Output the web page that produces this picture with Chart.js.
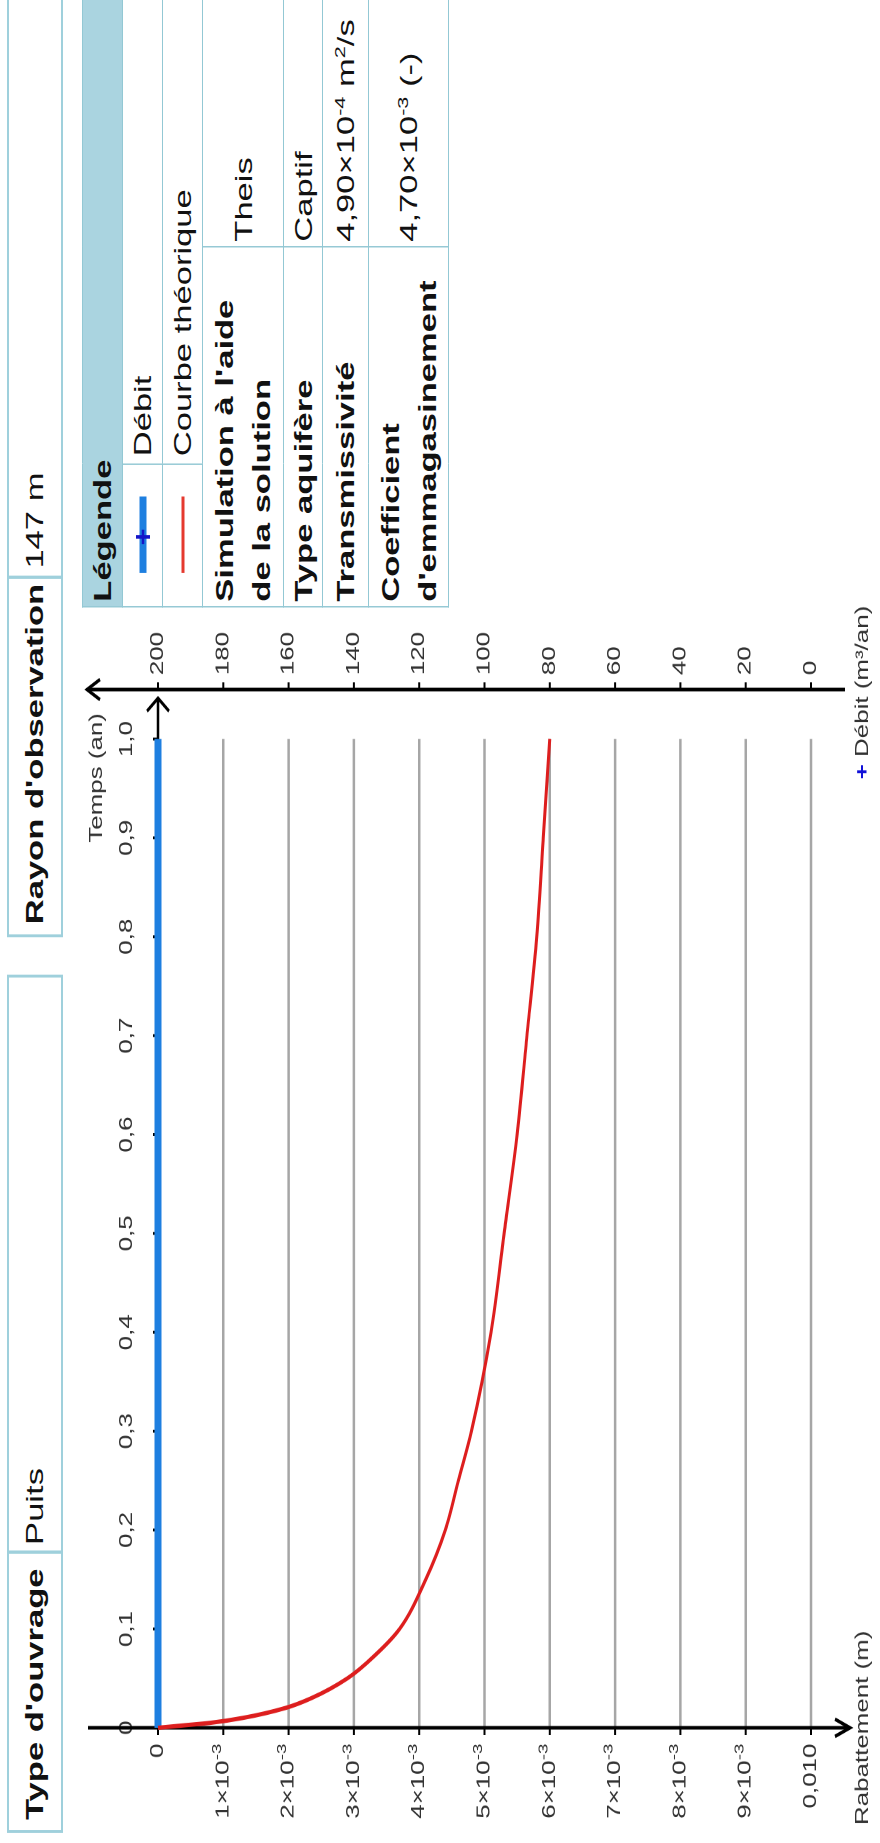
<!DOCTYPE html>
<html lang="fr">
<head>
<meta charset="utf-8">
<title>Simulation de Theis - rabattement</title>
<script src="https://cdn.jsdelivr.net/npm/chart.js@4.4.1/dist/chart.umd.min.js"></script>
<style>
  html, body { margin: 0; padding: 0; background: #fff; overflow: hidden; }
  body { width: 880px; height: 1843px; position: relative; }
  /* the sheet is laid out flat, then stretched and turned a quarter turn */
  #page {
    position: absolute; left: 0; top: 0;
    width: 1280px; height: 880px; overflow: hidden;
    transform-origin: 0 0;
    transform: translate(0, 1843px) rotate(-90deg) scale(1.44, 1);
    font-family: "Liberation Sans", Arial, sans-serif; color: #111;
  }
  .cell { position: absolute; top: 7px; height: 56px; box-sizing: border-box; border: 2px solid #9fd0dc;
          font-size: 24px; line-height: 52px; padding-left: 7px; white-space: nowrap; }
  .cell.b { font-weight: bold; }
  #legende { position: absolute; left: 858px; top: 82px; width: 440px; border-collapse: collapse;
             table-layout: fixed; font-size: 24px; }
  #legende td { border: 1.5px solid #93c8d4; padding: 0 0 0 3px; white-space: nowrap;
                vertical-align: middle; line-height: 37px; }
  #legende .hd td { background: #aad4e0; font-weight: bold; }
  #legende .pm { font-weight: bold; }
  #legende .lb { padding-left: 5px; }
  #legende sup { font-size: 15px; vertical-align: 9px; line-height: 0; }
  #legende .sym { padding: 0; }
  #legende svg { display: block; }
  #graphCanvas { position: absolute; left: 0; top: 60px; width: 1000px; height: 820px; }
</style>
</head>
<body>
<div id="page">
  <div class="cell b" style="left:7px;width:196px;">Type d'ouvrage</div>
  <div class="cell" style="left:201px;width:402px;padding-left:4px;">Puits</div>
  <div class="cell b" style="left:629px;width:251px;">Rayon d'observation</div>
  <div class="cell" style="left:878px;width:420px;padding-left:5px;">147 m</div>

  <table id="legende">
    <colgroup><col style="width:99px"><col style="width:151px"><col></colgroup>
    <tr class="hd" style="height:40px"><td colspan="3">Légende</td></tr>
    <tr style="height:40px">
      <td class="sym"><svg width="99" height="38">
        <line x1="23" y1="19" x2="76" y2="19" stroke="#1e7fe0" stroke-width="7"/>
        <line x1="48" y1="12" x2="48" y2="26" stroke="#1515c8" stroke-width="2.5"/>
        <line x1="43" y1="19" x2="53" y2="19" stroke="#1515c8" stroke-width="2.5"/>
      </svg></td>
      <td colspan="2" class="lb">Débit</td>
    </tr>
    <tr style="height:40px">
      <td class="sym"><svg width="99" height="38">
        <line x1="23" y1="19" x2="76" y2="19" stroke="#e5392f" stroke-width="3"/>
      </svg></td>
      <td colspan="2" class="lb">Courbe théorique</td>
    </tr>
    <tr style="height:81px"><td colspan="2" class="pm">Simulation à l'aide<br>de la solution</td><td>Theis</td></tr>
    <tr style="height:39px"><td colspan="2" class="pm">Type aquifère</td><td>Captif</td></tr>
    <tr style="height:46px"><td colspan="2" class="pm">Transmissivité</td><td>4,90×10<sup>-4</sup> m<sup>2</sup>/s</td></tr>
    <tr style="height:80px"><td colspan="2" class="pm">Coefficient<br>d'emmagasinement</td><td>4,70×10<sup>-3</sup> (-)</td></tr>
  </table>

  <canvas id="graphCanvas" width="1000" height="820"></canvas>
</div>

<script>
// Time axis (years)
const tempsTicks = [0, 0.1, 0.2, 0.3, 0.4, 0.5, 0.6, 0.7, 0.8, 0.9, 1.0];
const tempsLabels = ['0', '0,1', '0,2', '0,3', '0,4', '0,5', '0,6', '0,7', '0,8', '0,9', '1,0'];
const tempsMax = 1.05;

// Drawdown axis (m), reversed
const rabTicks = [0, 0.001, 0.002, 0.003, 0.004, 0.005, 0.006, 0.007, 0.008, 0.009, 0.010];
const rabLabels = ['0', '1×10', '2×10', '3×10', '4×10', '5×10', '6×10', '7×10', '8×10', '9×10', '0,010'];
const rabExpo = ['', '-3', '-3', '-3', '-3', '-3', '-3', '-3', '-3', '-3', ''];

// Pumping rate axis (m3/an)
const debitTicks = [0, 20, 40, 60, 80, 100, 120, 140, 160, 180, 200];

// Pumping rate series
const debitTemps = [0, 1.0];
const debitValues = [200, 200];

// Theoretical curve
const courbeTemps = [0, 0.0025, 0.005, 0.01, 0.02, 0.03, 0.05, 0.075, 0.1, 0.15, 0.2, 0.25, 0.3, 0.4, 0.5, 0.6, 0.7, 0.8, 0.9, 1.0];
const courbeRab = [0, 0.0004, 0.0008, 0.0013, 0.00195, 0.00235, 0.0029, 0.00335, 0.0037, 0.0041, 0.0044, 0.0046, 0.0048, 0.0051, 0.0053, 0.0055, 0.00565, 0.0058, 0.0059, 0.0060];

const FONT = '"Liberation Sans", Arial, sans-serif';
Chart.defaults.font.family = FONT;
Chart.defaults.color = '#333';

function seg(ctx, x1, y1, x2, y2) {
    ctx.beginPath();
    ctx.moveTo(x1, y1);
    ctx.lineTo(x2, y2);
    ctx.stroke();
}

function chevron(ctx, pts) {
    ctx.beginPath();
    ctx.moveTo(pts[0], pts[1]);
    ctx.lineTo(pts[2], pts[3]);
    ctx.lineTo(pts[4], pts[5]);
    ctx.stroke();
}

// Axes with arrows, tick marks and the grid that stops at 1,0 an
const axesPlugin = {
    id: 'axesFleches',
    beforeDatasetsDraw(chart) {
        const ctx = chart.ctx;
        const sx = chart.scales.x, sy = chart.scales.y, sd = chart.scales.y2;
        const x0 = sx.getPixelForValue(0);
        const x1 = sx.getPixelForValue(1.0);
        const top = sy.getPixelForValue(0);
        const bottom = sy.getPixelForValue(0.010);
        const xd = chart.chartArea.right;
        ctx.save();

        ctx.strokeStyle = '#a6a6a6';
        ctx.lineWidth = 2.5;
        rabTicks.slice(1).forEach(v => {
            const p = sy.getPixelForValue(v);
            seg(ctx, x0, p, x1, p);
        });

        ctx.strokeStyle = '#000';
        ctx.lineWidth = 2.5;
        seg(ctx, x0, top, xd - 6, top);
        seg(ctx, x0, top - 70, x0, bottom + 39);
        seg(ctx, xd, sd.getPixelForValue(200) - 71, xd, sd.getPixelForValue(0) + 34);

        chevron(ctx, [xd - 15, top - 11, xd - 6, top, xd - 15, top + 11]);
        chevron(ctx, [x0 - 6, bottom + 24, x0, bottom + 39, x0 + 6, bottom + 24]);
        const dTop = sd.getPixelForValue(200) - 71;
        chevron(ctx, [xd - 7, dTop + 13, xd, dTop, xd + 7, dTop + 13]);

        ctx.lineWidth = 2;
        tempsTicks.forEach(v => {
            const p = sx.getPixelForValue(v);
            seg(ctx, p, top, p, top - 5);
        });
        rabTicks.forEach(v => {
            const p = sy.getPixelForValue(v);
            seg(ctx, x0, p, x0 - 5, p);
        });
        debitTicks.forEach(v => {
            const p = sd.getPixelForValue(v);
            seg(ctx, xd, p, xd + 5, p);
        });
        ctx.restore();
    },
    afterDraw(chart) {
        const ctx = chart.ctx;
        const sx = chart.scales.x, sy = chart.scales.y;
        const x0 = sx.getPixelForValue(0);
        const x1 = sx.getPixelForValue(1.0);
        const top = sy.getPixelForValue(0);
        const bottom = sy.getPixelForValue(0.010);
        const mainF = '18px ' + FONT;
        const supF = '13px ' + FONT;
        ctx.save();
        ctx.fillStyle = '#333';
        ctx.textBaseline = 'middle';
        ctx.textAlign = 'left';

        // drawdown tick labels with a raised exponent
        rabTicks.forEach((v, i) => {
            const p = sy.getPixelForValue(v);
            const right = x0 - 11;
            ctx.font = supF;
            const ws = rabExpo[i] ? ctx.measureText(rabExpo[i]).width : 0;
            ctx.font = mainF;
            const wm = ctx.measureText(rabLabels[i]).width;
            ctx.fillText(rabLabels[i], right - ws - wm, p);
            if (ws) {
                ctx.font = supF;
                ctx.fillText(rabExpo[i], right - ws, p - 6);
            }
        });

        // axis titles
        ctx.font = mainF;
        ctx.textAlign = 'right';
        ctx.fillText('Temps (an)', x1 + 18, top - 61);
        ctx.textAlign = 'center';
        ctx.fillText('Rabattement (m)', x0, bottom + 52);

        ctx.textAlign = 'left';
        ctx.font = 'bold 18px ' + FONT;
        ctx.fillStyle = '#1010d8';
        const startX = x1 - 28;
        ctx.fillText('+', startX, bottom + 52);
        const wp = ctx.measureText('+ ').width;
        ctx.font = mainF;
        ctx.fillStyle = '#333';
        ctx.fillText('Débit (m³/an)', startX + wp, bottom + 52);
        ctx.restore();
    }
};

const ctx = document.getElementById('graphCanvas').getContext('2d');
const chart = new Chart(ctx, {
    type: 'line',
    data: {
        datasets: [
            {
                label: 'Courbe théorique',
                data: courbeTemps.map((t, i) => ({ x: t, y: courbeRab[i] })),
                yAxisID: 'y',
                borderColor: '#dd1e1e',
                borderWidth: 3,
                pointRadius: 0,
                cubicInterpolationMode: 'monotone',
                fill: false,
                clip: false
            },
            {
                label: 'Débit',
                data: debitTemps.map((t, i) => ({ x: t, y: debitValues[i] })),
                yAxisID: 'y2',
                borderColor: '#1e7fe0',
                borderWidth: 7,
                pointRadius: 0,
                fill: false,
                clip: false
            }
        ]
    },
    options: {
        responsive: false,
        animation: false,
        devicePixelRatio: 2,
        layout: { padding: { left: 0, top: 0, right: 0, bottom: 69 } },
        plugins: {
            legend: { display: false },
            tooltip: { enabled: false }
        },
        scales: {
            x: {
                type: 'linear',
                position: 'top',
                min: 0,
                max: tempsMax,
                grid: { display: false, drawTicks: false },
                border: { display: false },
                afterBuildTicks: s => { s.ticks = tempsTicks.map(v => ({ value: v })); },
                afterFit: s => { s.height = 98; },
                ticks: {
                    padding: 20,
                    autoSkip: false,
                    maxRotation: 0,
                    color: '#333',
                    font: { size: 18 },
                    callback: v => tempsLabels[tempsTicks.indexOf(v)]
                }
            },
            y: {
                type: 'linear',
                position: 'left',
                reverse: true,
                min: 0,
                max: 0.010,
                grid: { display: false, drawTicks: false },
                border: { display: false },
                afterBuildTicks: s => { s.ticks = rabTicks.map(v => ({ value: v })); },
                afterFit: s => { s.width = 80; },
                ticks: { display: false }
            },
            y2: {
                type: 'linear',
                position: 'right',
                min: 0,
                max: 200,
                grid: { display: false, drawTicks: false },
                border: { display: false },
                afterBuildTicks: s => { s.ticks = debitTicks.map(v => ({ value: v })); },
                afterFit: s => { s.width = 199; },
                ticks: {
                    padding: 10,
                    color: '#333',
                    font: { size: 18 },
                    callback: v => String(v)
                }
            }
        }
    },
    plugins: [axesPlugin]
});
</script>
</body>
</html>
